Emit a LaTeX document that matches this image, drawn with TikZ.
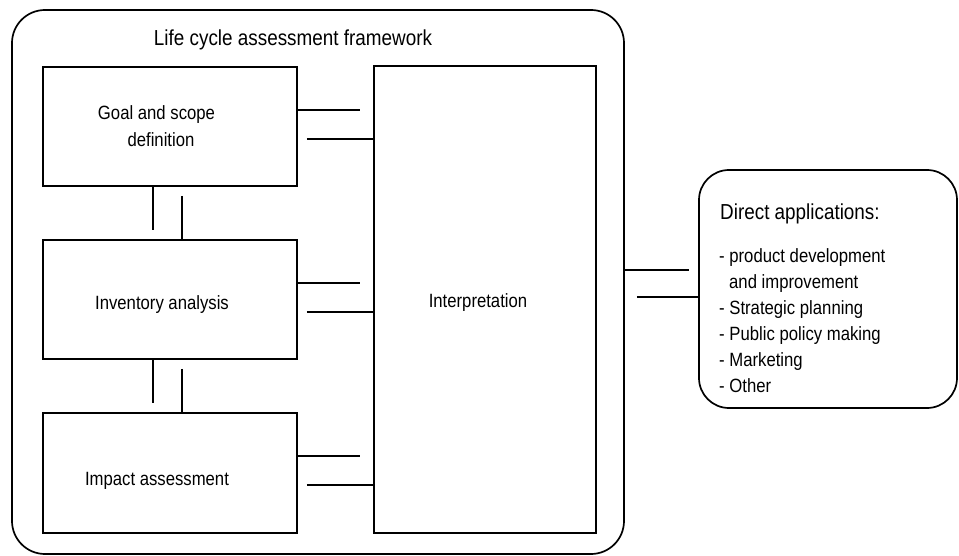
\documentclass[tikz,border=0pt]{standalone}
\usepackage{fontspec}
\setmainfont{Liberation Sans}[FakeStretch=0.87]
\begin{document}
\begin{tikzpicture}[x=1pt,y=-1pt,
  frame/.style={draw, line width=1.7pt, rectangle, inner sep=0pt},
  conn/.style={line width=1.7pt},
  big/.style={font=\fontsize{21.7}{26}\selectfont, inner sep=0pt},
  small/.style={font=\fontsize{19.2}{23}\selectfont, inner sep=0pt}]
\useasboundingbox (0,0) rectangle (959,556);

% outer framework and the application box
\node[frame, rounded corners=33pt, minimum width=612pt, minimum height=544pt] (outer) at (318,282) {};
\node[frame, rounded corners=30pt, minimum width=258pt, minimum height=238pt] (apps) at (828,289) {};

% phase boxes
\node[frame, minimum width=254pt, minimum height=119pt] (goal) at (170,126.5) {};
\node[frame, minimum width=254pt, minimum height=119pt] (inv) at (170,299.5) {};
\node[frame, minimum width=254pt, minimum height=120pt] (imp) at (170,473) {};
\node[frame, minimum width=222pt, minimum height=467pt] (interp) at (485,299.5) {};

% texts
\node[big, anchor=base] (title) at (293,46) {Life cycle assessment framework};
\node[small, anchor=base] (goalA) at (156.5,120) {Goal and scope};
\node[small, anchor=base] (goalB) at (161,147) {definition};
\node[small, anchor=base] (invT) at (162,309) {Inventory analysis};
\node[small, anchor=base] (impT) at (157,485) {Impact assessment};
\node[small, anchor=base] (intT) at (478,308) {Interpretation};
\node[big, anchor=base west] (appsT) at (720,220) {Direct applications:};
\node[small, anchor=base west] (l1) at (719,262) {- product development};
\node[small, anchor=base west] (l2) at (729,288) {and improvement};
\node[small, anchor=base west] (l3) at (719,314) {- Strategic planning};
\node[small, anchor=base west] (l4) at (719,340) {- Public policy making};
\node[small, anchor=base west] (l5) at (719,366) {- Marketing};
\node[small, anchor=base west] (l6) at (719,392) {- Other};

% vertical links between the phases
\foreach \a/\b in {goal/inv, inv/imp} {
  \draw[conn, shorten >=9pt] ([xshift=111pt]\a.south west) -- ([xshift=111pt]\b.north west);
  \draw[conn, shorten <=9pt] ([xshift=140pt]\a.south west) -- ([xshift=140pt]\b.north west);
}

% links from each phase to interpretation
\foreach \a in {goal, inv, imp} {
  \draw[conn, shorten >=13pt] ([yshift=-44pt]\a.north east) -- ([yshift=-44pt]\a.north east -| interp.west);
  \draw[conn, shorten <=9pt] ([yshift=-73pt]\a.north east) -- ([yshift=-73pt]\a.north east -| interp.west);
}

% links from the framework to the applications
\draw[conn, shorten >=9pt] (outer.east |- 0,270) -- (apps.west |- 0,270);
\draw[conn, shorten <=12pt] (outer.east |- 0,297) -- (apps.west |- 0,297);
\end{tikzpicture}
\end{document}
